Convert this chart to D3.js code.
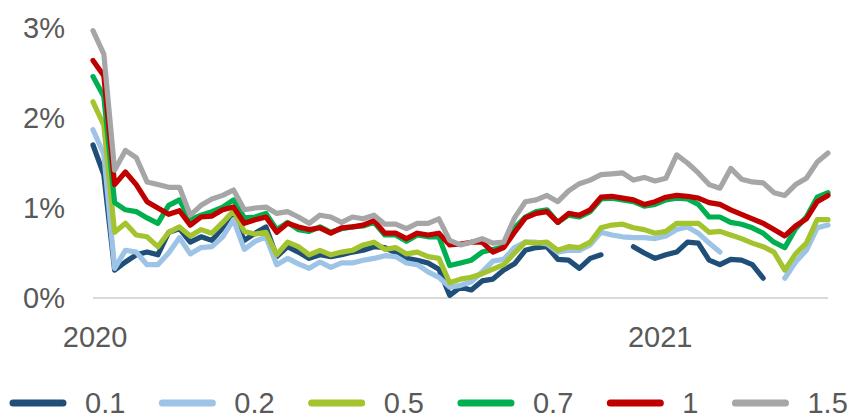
<!DOCTYPE html>
<html>
<head>
<meta charset="utf-8">
<script src="https://cdn.jsdelivr.net/npm/d3@7"></script>
<style>
  html, body { margin: 0; padding: 0; background: #ffffff; }
  svg { display: block; font-family: "Liberation Sans", Arial, sans-serif; }
</style>
</head>
<body>
<svg id="chart" width="856" height="420"></svg>
<script>
// ---- data (weekly observations, % ) ----
const startDate = "2019-12-31";
const seriesNames = ["0.1", "0.2", "0.5", "0.7", "1", "1.5"];
const seriesColors = ["#1F4E79", "#9DC3E6", "#A3C42E", "#00B050", "#C00000", "#A6A6A6"];
const yTicks = [0, 1, 2, 3];
const xTickLabels = ["2020", "2021"];

const s01 = [1.70,1.37,0.31,0.40,0.48,0.51,0.48,0.73,0.77,0.62,0.68,0.64,0.78,0.92,0.64,0.72,0.79,0.46,0.57,0.51,
             0.44,0.48,0.46,0.48,0.51,0.53,0.57,0.56,0.50,0.44,0.42,0.39,0.32,0.03,0.12,0.09,0.19,0.21,0.31,0.38,
             0.53,0.56,0.57,0.43,0.42,0.33,0.44,0.48,null,null,0.57,0.50,0.44,0.48,0.51,0.62,0.61,0.42,0.37,0.43,
             0.42,0.37,0.22,null,null,null,null,null,null];
const s02 = [1.87,1.60,0.33,0.53,0.51,0.37,0.37,0.50,0.67,0.49,0.56,0.57,0.68,0.87,0.54,0.63,0.68,0.37,0.44,0.38,
             0.33,0.40,0.34,0.39,0.39,0.42,0.44,0.47,0.46,0.39,0.37,0.29,0.23,0.12,0.14,0.18,0.29,0.41,0.43,0.56,
             0.62,0.62,0.60,0.51,0.53,0.53,0.59,0.73,0.70,0.68,0.67,0.67,0.66,0.69,0.76,0.79,0.72,0.61,0.51,null,
             null,null,null,null,0.22,0.40,0.53,0.78,0.81];
const s05 = [2.18,1.92,0.73,0.83,0.70,0.68,0.57,0.73,0.79,0.69,0.76,0.72,0.84,0.97,0.74,0.71,0.73,0.48,0.62,0.57,
             0.48,0.53,0.48,0.51,0.53,0.59,0.62,0.54,0.56,0.49,0.51,0.46,0.44,0.17,0.21,0.23,0.27,0.32,0.37,0.50,
             0.62,0.61,0.62,0.53,0.57,0.56,0.62,0.78,0.81,0.82,0.78,0.76,0.72,0.74,0.83,0.83,0.83,0.73,0.74,0.70,
             0.66,0.61,0.57,0.51,0.31,0.49,0.61,0.87,0.87];
const s07 = [2.46,2.24,1.06,0.98,0.96,0.89,0.83,1.03,1.09,0.87,0.92,0.96,1.01,1.09,0.89,0.90,0.94,0.76,0.84,0.76,
             0.74,0.79,0.73,0.77,0.79,0.80,0.84,0.70,0.70,0.63,0.70,0.68,0.68,0.36,0.39,0.42,0.51,0.54,0.57,0.78,
             0.90,0.96,0.98,0.84,0.92,0.90,0.96,1.10,1.11,1.09,1.07,1.02,1.04,1.09,1.11,1.10,1.04,0.90,0.90,0.84,
             0.82,0.78,0.72,0.62,0.56,0.77,0.90,1.12,1.17];
const s10 = [2.64,2.47,1.26,1.40,1.26,1.07,1.00,0.93,0.97,0.81,0.90,0.91,0.98,1.01,0.83,0.87,0.90,0.73,0.83,0.79,
             0.76,0.78,0.72,0.78,0.79,0.81,0.86,0.72,0.72,0.66,0.72,0.70,0.72,0.59,0.60,0.62,0.62,0.51,0.56,0.73,
             0.89,0.94,0.96,0.84,0.94,0.92,0.98,1.12,1.13,1.11,1.09,1.04,1.07,1.12,1.14,1.13,1.11,1.06,1.04,0.98,
             0.93,0.88,0.83,0.76,0.69,0.80,0.88,1.07,1.14];
const s15 = [2.97,2.71,1.42,1.64,1.56,1.29,1.26,1.23,1.23,0.92,1.03,1.10,1.14,1.20,0.98,1.00,1.01,0.94,0.96,0.90,
             0.83,0.92,0.90,0.84,0.90,0.88,0.92,0.82,0.82,0.77,0.83,0.83,0.88,0.64,0.59,0.62,0.66,0.61,0.62,0.89,
             1.07,1.09,1.14,1.07,1.19,1.27,1.31,1.37,1.38,1.39,1.31,1.34,1.30,1.33,1.59,1.50,1.39,1.26,1.22,1.44,
             1.32,1.29,1.28,1.17,1.14,1.26,1.33,1.51,1.61];

const seriesValues = [s01, s02, s05, s07, s10, s15];

// ---- build ----
const parse = d3.utcParse("%Y-%m-%d");
const t0 = parse(startDate);
const dates = s01.map((_, i) => d3.utcDay.offset(t0, 7 * i));

const svg = d3.select("#chart");
const FONT = 29;
const TEXT_COLOR = "#595959";

const x = d3.scaleUtc()
  .domain([dates[0], dates[dates.length - 1]])
  .range([93, 828]);
const y = d3.scaleLinear().domain([0, 3]).range([298, 28]);

// baseline (0%)
svg.append("line")
  .attr("x1", x.range()[0]).attr("x2", x.range()[1])
  .attr("y1", y(0)).attr("y2", y(0))
  .attr("stroke", "#D9D9D9").attr("stroke-width", 2);

// y axis
const yAxis = d3.axisLeft(y).tickValues(yTicks).tickSize(0).tickPadding(28)
  .tickFormat(d => d + "%");
const gy = svg.append("g").attr("transform", "translate(93,0)").call(yAxis);
gy.select(".domain").remove();
gy.selectAll("text").attr("font-size", FONT).attr("fill", TEXT_COLOR)
  .attr("font-family", "'Liberation Sans', Arial, sans-serif");

// x axis
const xTickDates = xTickLabels.map(s => parse(s + "-01-01"));
const xAxis = d3.axisBottom(x).tickValues(xTickDates).tickSize(0).tickPadding(28)
  .tickFormat(d3.utcFormat("%Y"));
const gx = svg.append("g").attr("transform", `translate(0,${y(0)})`).call(xAxis);
gx.select(".domain").remove();
gx.selectAll("text").attr("font-size", FONT).attr("fill", TEXT_COLOR)
  .attr("font-family", "'Liberation Sans', Arial, sans-serif");

// lines
const line = d3.line()
  .defined(d => d.v !== null)
  .x(d => x(d.t))
  .y(d => y(d.v));

seriesValues.forEach((vals, k) => {
  const pts = vals.map((v, i) => ({ t: dates[i], v }));
  svg.append("path")
    .datum(pts)
    .attr("fill", "none")
    .attr("stroke", seriesColors[k])
    .attr("stroke-width", 5.2)
    .attr("stroke-linejoin", "round")
    .attr("stroke-linecap", "round")
    .attr("d", line);
});

// legend
const legend = svg.append("g").attr("transform", "translate(0,403)");
let lx = 13;
seriesNames.forEach((name, k) => {
  const g = legend.append("g").attr("transform", `translate(${lx},0)`);
  g.append("line").attr("x1", 0).attr("x2", 50).attr("y1", 0).attr("y2", 0)
    .attr("stroke", seriesColors[k]).attr("stroke-width", 7).attr("stroke-linecap", "round");
  const t = g.append("text").attr("x", 72).attr("y", 0).attr("dy", "0.36em")
    .attr("font-size", FONT).attr("fill", TEXT_COLOR).text(name);
  const w = t.node().getComputedTextLength();
  lx += 72 + w + 37;
});
</script>
</body>
</html>
